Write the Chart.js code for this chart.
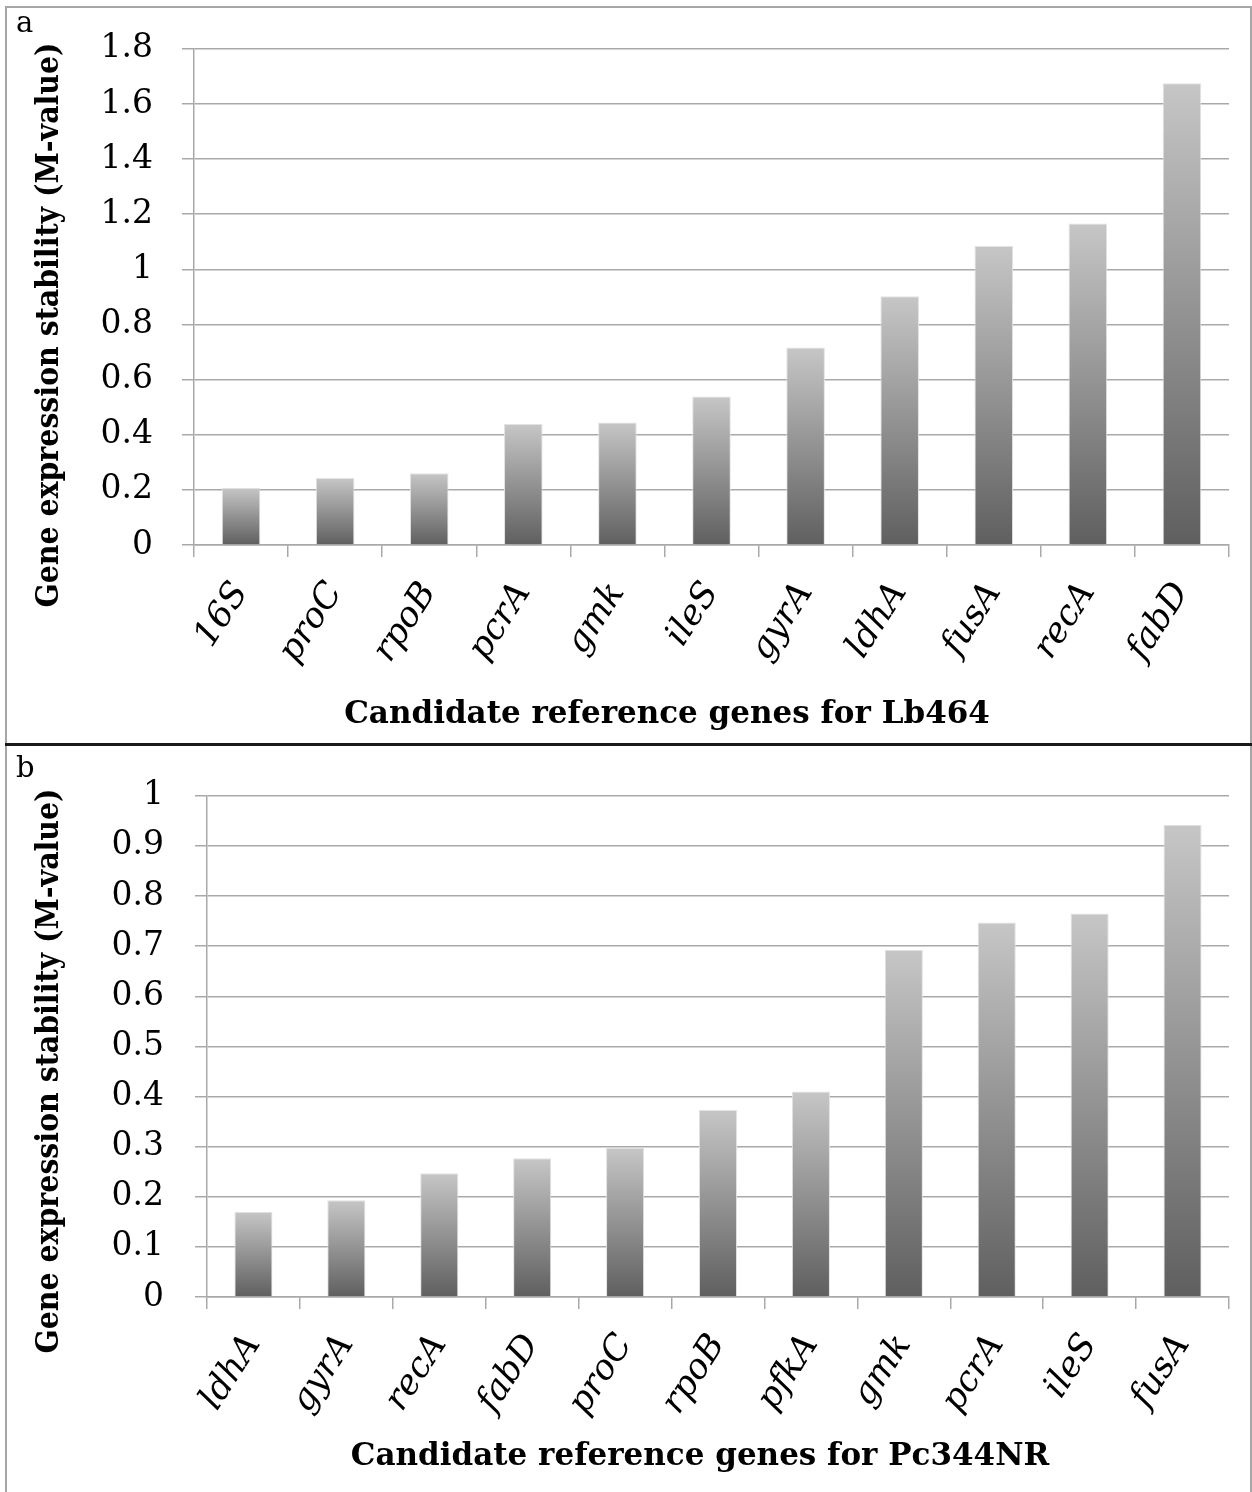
<!DOCTYPE html>
<html>
<head>
<meta charset="utf-8">
<script src="https://cdn.jsdelivr.net/npm/chart.js@4.4.1/dist/chart.umd.min.js"></script>
<style>
    body { margin: 0; width: 1252px; height: 1492px; background: #fff; position: relative; overflow: hidden; font-family: 'DejaVu Serif', serif; }
    canvas { position: absolute; left: 0; }
    #chartA { top: 0; }
    #chartB { top: 745px; }
    .frame { position: absolute; border: 2px solid #a6a6a6; box-sizing: border-box; }
    #frameA { left: 5px; top: 6px; width: 1247px; height: 740px; border-bottom: none; }
    #frameB { left: 5px; top: 746px; width: 1247px; height: 746px; border-top: none; border-bottom: none; }
    #sep { position: absolute; left: 5px; top: 743px; width: 1247px; height: 3px; background: #1a1a1a; }
    .letra { position: absolute; left: 16px; font-size: 29px; line-height: 28px; color: #000; }
</style>
</head>
<body>
<div class="frame" id="frameA"></div>
<div class="frame" id="frameB"></div>
<div id="sep"></div>
<canvas id="chartA" width="1252" height="745"></canvas>
<canvas id="chartB" width="1252" height="747"></canvas>
<div class="letra" style="top:8px">a</div>
<div class="letra" style="top:753px">b</div>
<script>
// datos del panel a (Lb464)
var genesA = ['16S', 'proC', 'rpoB', 'pcrA', 'gmk', 'ileS', 'gyrA', 'ldhA', 'fusA', 'recA', 'fabD'];
var valoresA = [0.208, 0.243, 0.260, 0.439, 0.444, 0.539, 0.716, 0.902, 1.085, 1.166, 1.675];
var ticksA = [0, 0.2, 0.4, 0.6, 0.8, 1, 1.2, 1.4, 1.6, 1.8];

// datos del panel b (Pc344NR)
var genesB = ['ldhA', 'gyrA', 'recA', 'fabD', 'proC', 'rpoB', 'pfkA', 'gmk', 'pcrA', 'ileS', 'fusA'];
var valoresB = [0.170, 0.193, 0.247, 0.277, 0.298, 0.373, 0.410, 0.693, 0.747, 0.765, 0.942];
var ticksB = [0, 0.1, 0.2, 0.3, 0.4, 0.5, 0.6, 0.7, 0.8, 0.9, 1];

var tituloY = 'Gene expression stability (M-value)';
var tituloXA = 'Candidate reference genes for Lb464';
var tituloXB = 'Candidate reference genes for Pc344NR';

var gris = '#a9a9a9';

// degradado por barra: claro arriba, oscuro abajo
function degradado(ctx) {
    var chart = ctx.chart;
    var y = chart.scales.y;
    if (!y || ctx.type !== 'data') return '#8a8a8a';
    var arriba = y.getPixelForValue(ctx.raw);
    var abajo = y.getPixelForValue(0);
    if (!isFinite(arriba) || !isFinite(abajo) || arriba === abajo) return '#8a8a8a';
    var g = chart.ctx.createLinearGradient(0, arriba, 0, abajo);
    g.addColorStop(0, '#c6c6c6');
    g.addColorStop(1, '#5f5f5f');
    return g;
}

// titulos de ejes dibujados en el canvas
var titulosEjes = {
    id: 'titulosEjes',
    afterDraw: function (chart, args, opts) {
        var c = chart.ctx;
        c.save();
        c.fillStyle = '#000';
        c.textAlign = 'center';
        c.textBaseline = 'middle';
        c.font = 'bold 31px "DejaVu Serif"';
        c.fillText(opts.textoX, opts.posX[0], opts.posX[1], opts.anchoX);
        c.translate(opts.posY[0], opts.posY[1]);
        c.rotate(-Math.PI / 2);
        c.font = 'bold 32px "DejaVu Serif"';
        c.fillText(opts.textoY, 0, 0, opts.anchoY);
        c.restore();
    }
};

function crearGrafica(id, genes, valores, ticks, o) {
    return new Chart(document.getElementById(id), {
        type: 'bar',
        data: {
            labels: genes,
            datasets: [{
                data: valores,
                backgroundColor: degradado,
                borderColor: '#e2e2e2',
                borderWidth: 1,
                barPercentage: 0.41,
                categoryPercentage: 1
            }]
        },
        options: {
            responsive: false,
            animation: false,
            layout: { padding: { top: o.arriba, right: 23, left: 0, bottom: 0 } },
            plugins: {
                legend: { display: false },
                tooltip: { enabled: false },
                titulosEjes: { textoX: o.tituloX, posX: o.posX, anchoX: o.anchoX, textoY: tituloY, posY: o.posY, anchoY: 565 }
            },
            scales: {
                x: {
                    grid: { offset: true, drawOnChartArea: false, drawTicks: true, tickLength: 12, color: gris, lineWidth: 1.5 },
                    border: { color: gris, width: 1.5 },
                    ticks: {
                        color: '#000', autoSkip: false, minRotation: 57, maxRotation: 57, padding: 18,
                        font: { family: 'DejaVu Serif', size: 35, style: 'italic' }
                    },
                    afterFit: function (s) { s.height = o.altoX; }
                },
                y: {
                    min: 0,
                    max: ticks[ticks.length - 1],
                    grid: { color: gris, lineWidth: 1.5, tickLength: 12 },
                    border: { color: gris, width: 1.5 },
                    ticks: {
                        color: '#000', padding: o.pad,
                        font: { family: 'DejaVu Serif', size: 33 },
                        callback: function (v) { return String(v); }
                    },
                    afterBuildTicks: function (s) {
                        s.ticks = ticks.map(function (v) { return { value: v }; });
                    },
                    afterFit: function (s) { s.width = o.anchoY; }
                }
            }
        },
        plugins: [titulosEjes]
    });
}

crearGrafica('chartA', genesA, valoresA, ticksA, {
    arriba: 38, altoX: 200, anchoY: 194, pad: 29,
    tituloX: tituloXA, posX: [667, 715], anchoX: 660, posY: [50, 325]
});

crearGrafica('chartB', genesB, valoresB, ticksB, {
    arriba: 32, altoX: 195, anchoY: 207, pad: 31,
    tituloX: tituloXB, posX: [700, 712], anchoX: 700, posY: [50, 326]
});
</script>
</body>
</html>
